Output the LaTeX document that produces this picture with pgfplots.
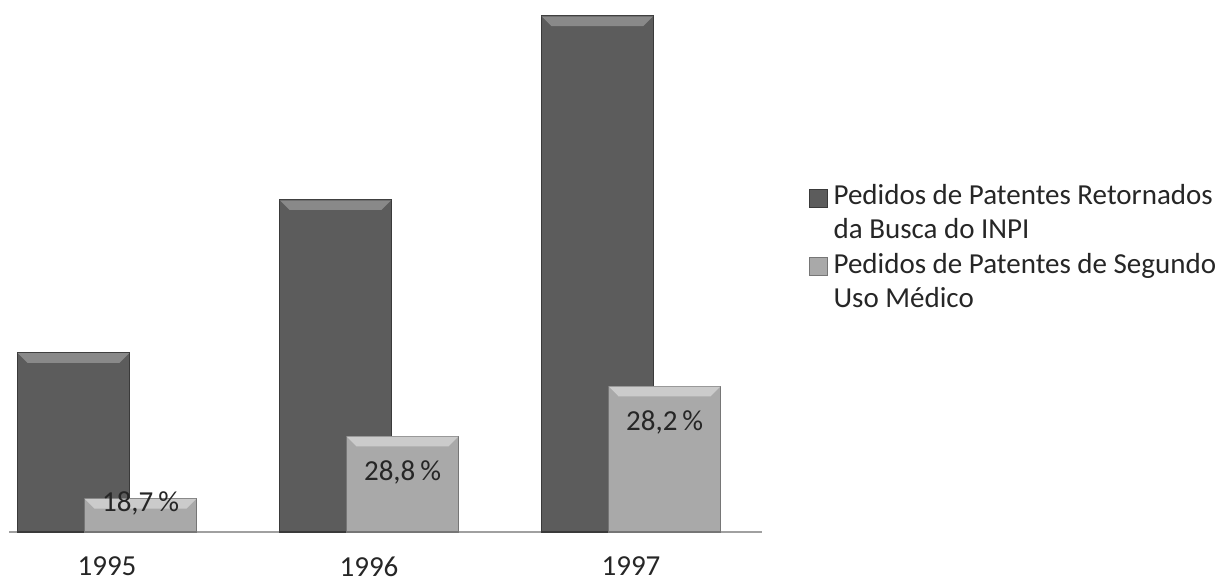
\documentclass[border=0pt]{standalone}
\usepackage{pgfplots}
\usepackage{pgfplotstable}
\pgfplotsset{compat=1.18}
\usepackage{fontspec}
\setmainfont{Carlito}
\definecolor{darkbar}{HTML}{5C5C5C}
\definecolor{darkedge}{HTML}{3A3A3A}
\definecolor{lightbar}{HTML}{A9A9A9}
\definecolor{lightedge}{HTML}{767676}
\definecolor{axisgray}{HTML}{A0A0A0}
\definecolor{txt}{HTML}{262626}

% bar data
\pgfplotstableread{
x y
-0.128 75
0.872 139
1.872 216
}\darkdata
\pgfplotstableread{
x y label off
0.128 14 {18,7\,\%} 5
1.128 40 {28,8\,\%} 36
2.128 61 {28,2\,\%} 36
}\lightdata

\begin{document}
\begin{tikzpicture}
\useasboundingbox (-9pt,-51pt) rectangle (1220pt,532pt);
\begin{axis}[
  at={(0pt,0pt)}, anchor=south west,
  scale only axis, width=753pt, height=532pt,
  xmin=-0.374, xmax=2.5, ymin=0, ymax=222.7,
  axis x line=bottom, axis y line=none,
  x axis line style={-, draw=axisgray, line width=1.5pt},
  xtick={0,1,2}, xticklabels={1995,1996,1997},
  xtick style={draw=none},
  xticklabel style={font=\fontsize{29}{34}\selectfont, text=txt, yshift=-19pt},
  ytick=\empty,
  clip=false,
  legend cell align=left,
  legend style={at={(1.0624,0.654)}, anchor=north west, draw=none, fill=none,
    inner sep=0pt, row sep=13pt, cells={align=left},
    nodes={inner sep=0pt, text=txt},
    font=\fontsize{29}{28}\selectfont},
  hl/.style={forget plot, draw=none, fill=white, fill opacity=#1},
]
\addplot[ybar, bar width=0.4275, bar shift=0pt, fill=darkbar, draw=darkedge, line width=1.2pt,
  legend image code/.code={\path[draw=none,fill=none] (0pt,-23pt) rectangle (24pt,23pt);
    \path[fill=darkbar, draw=darkedge, line width=0.8pt] (0pt,5pt) rectangle (18pt,23pt);}]
  table[x=x,y=y]{\darkdata};
% bevel highlights on the dark bar tops
\addplot[hl=0.28] coordinates {(-0.3418,75) (0.0858,75) (0.0476,70.81) (-0.3036,70.81)};
\addplot[hl=0.28] coordinates {(0.6583,139) (1.0858,139) (1.0476,134.81) (0.6964,134.81)};
\addplot[hl=0.28] coordinates {(1.6583,216) (2.0858,216) (2.0476,211.81) (1.6964,211.81)};
\addplot[ybar, bar width=0.4275, bar shift=0pt, fill=lightbar, draw=lightedge, line width=1.2pt,
  nodes near coords, point meta=explicit symbolic,
  visualization depends on={\thisrow{off}\as\off},
  nodes near coords style={anchor=center, yshift=-\off pt, text=txt, font=\fontsize{29}{34}\selectfont},
  legend image code/.code={\path[draw=none,fill=none] (0pt,-23pt) rectangle (24pt,23pt);
    \path[fill=lightbar, draw=lightedge, line width=0.8pt] (0pt,5pt) rectangle (18pt,23pt);}]
  table[x=x,y=y,meta=label]{\lightdata};
% bevel highlights on the light bar tops
\addplot[hl=0.4] coordinates {(-0.0858,14) (0.3418,14) (0.3036,9.81) (-0.0476,9.81)};
\addplot[hl=0.4] coordinates {(0.9143,40) (1.3418,40) (1.3036,35.81) (0.9524,35.81)};
\addplot[hl=0.4] coordinates {(1.9143,61) (2.3418,61) (2.3036,56.81) (1.9524,56.81)};
\legend{{Pedidos de Patentes Retornados\\[6pt]da Busca do INPI},{Pedidos de Patentes de Segundo\\[6pt]Uso Médico}}
\end{axis}
\end{tikzpicture}
\end{document}
